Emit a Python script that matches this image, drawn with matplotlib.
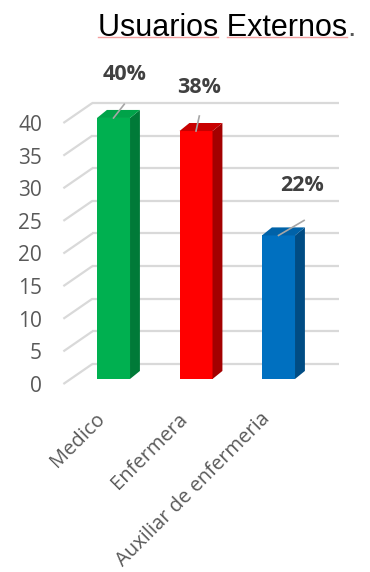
import matplotlib.pyplot as plt
from matplotlib.patches import Polygon

categories = ['Medico', 'Enfermera', 'Auxiliar de enfermeria']
values = [40, 38, 22]
pct_labels = ['40%', '38%', '22%']
y_ticks = [0, 5, 10, 15, 20, 25, 30, 35, 40]

front_colors = ['#00b050', '#ff0000', '#0070c0']
side_colors = ['#007a38', '#a30000', '#004c84']
top_colors = ['#00a349', '#c80000', '#0062a8']

# label offsets from the top of each bar (x in categories, y in values)
label_dx = [0.13, 0.04, 0.29]
label_dy = [6.6, 6.6, 7.7]
leader_dx = [0.13, 0.04, 0.31]
leader_dy = [2.1, 2.3, 2.3]

plt.rcParams['font.family'] = ['Open Sans', 'DejaVu Sans']

fig = plt.figure(figsize=(3.7, 5.72), dpi=100)
ax = fig.add_axes([0, 0, 1, 1])
ax.set_xlim(-1.376, 3.109)
ax.set_ylim(-29.58, 58.08)
ax.axis('off')

width = 0.4
dx, dy = 0.12, 1.23
grid_col = '#d9d9d9'

# back wall gridlines + floor/side diagonals
for v in y_ticks:
    ax.plot([-0.608, -0.256], [v - 0.77, v + 2.3], color=grid_col, lw=1.6, zorder=1,
            solid_capstyle='butt')
    ax.plot([-0.256, 2.73], [v + 2.3, v + 2.3], color=grid_col, lw=1.6, zorder=1,
            solid_capstyle='butt')
    ax.text(-0.867, v - 1.15, str(v), ha='right', va='center', fontsize=15,
            color='#595959')

xs = list(range(len(categories)))
ax.bar(xs, values, width=width, color=front_colors, zorder=3)
for i, v in enumerate(values):
    r = xs[i] + width / 2
    l = xs[i] - width / 2
    ax.add_patch(Polygon([(r, 0), (r + dx, dy), (r + dx, v + dy), (r, v)],
                         closed=True, color=side_colors[i], zorder=3, lw=0))
    ax.add_patch(Polygon([(l, v), (l + dx, v + dy), (r + dx, v + dy), (r, v)],
                         closed=True, color=top_colors[i], zorder=3, lw=0))
    ax.plot([xs[i], xs[i] + leader_dx[i]], [v, v + leader_dy[i]], color='#a6a6a6',
            lw=1.2, zorder=4)
    ax.text(xs[i] + label_dx[i], v + label_dy[i], pct_labels[i], ha='center',
            va='center', fontsize=15.5, fontweight='bold', color='#404040')
    ax.text(xs[i] - 0.135, -5.67, categories[i], rotation=45, rotation_mode='anchor',
            ha='right', va='center', fontsize=14.5, color='#595959')

# title
tx, ty = -0.19, 52.6
title = ax.text(tx, ty, 'Usuarios Externos', ha='left', va='baseline',
                fontsize=22, family='Liberation Sans', color='#000000')
fig.canvas.draw()
rend = fig.canvas.get_renderer()
inv = ax.transData.inverted()
bb = title.get_window_extent(rend)
end_x = inv.transform((bb.x1, bb.y0))[0]
ax.text(end_x, ty, '.', ha='left', va='baseline', fontsize=22,
        family='Liberation Sans', color='#595959')

w1 = ax.text(tx, ty, 'Usuarios', fontsize=22, family='Liberation Sans', alpha=0)
w1s = ax.text(tx, ty, 'Usuarios E', fontsize=22, family='Liberation Sans', alpha=0)
b1 = w1.get_window_extent(rend)
b1s = w1s.get_window_extent(rend)
x_a = inv.transform((b1.x1, 0))[0]
x_b = inv.transform((b1s.x1, 0))[0]
e_w = ax.text(tx, ty, 'E', fontsize=22, family='Liberation Sans', alpha=0)
x_e = x_b - (inv.transform((e_w.get_window_extent(rend).x1, 0))[0] - tx)
uy = ty - 0.25
ax.plot([tx, x_a], [uy, uy], color='#f4a0a0', lw=1.0, zorder=2)
ax.plot([x_e, end_x], [uy, uy], color='#f4a0a0', lw=1.0, zorder=2)

fig.savefig('out.png', dpi=100)
